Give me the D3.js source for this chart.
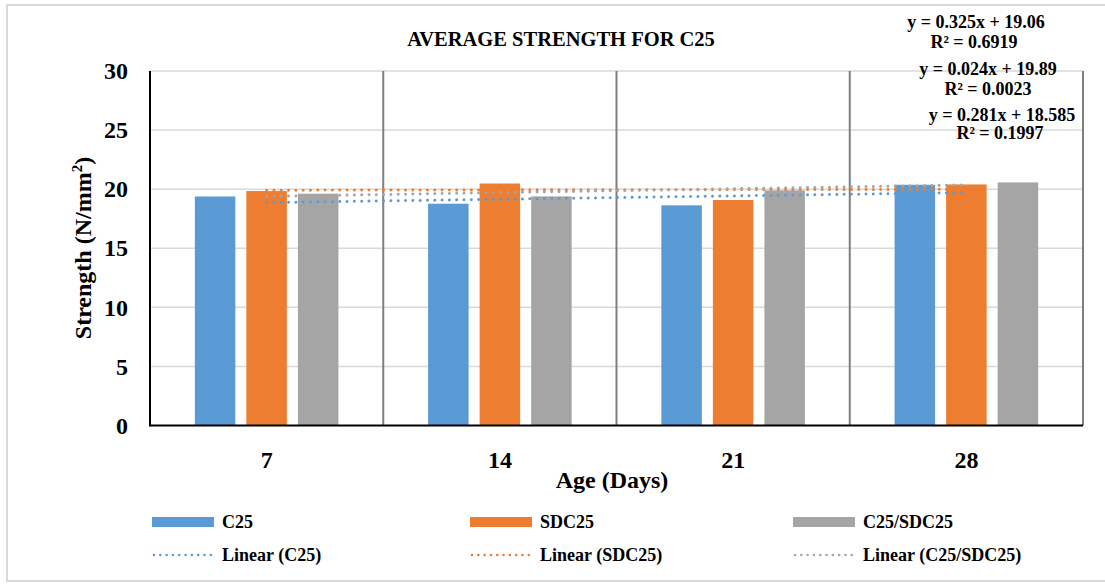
<!DOCTYPE html>
<html>
<head>
<meta charset="utf-8">
<script src="https://cdn.jsdelivr.net/npm/d3@7"></script>
<style>
  html, body { margin: 0; padding: 0; background: #fff; }
  text { font-family: "Liberation Serif", "Times New Roman", serif; font-weight: bold; fill: #000; }
</style>
</head>
<body>
<svg id="chart" width="1105" height="586"></svg>
<script>
// ---- data ----
const categories = ["7", "14", "21", "28"];
const seriesNames = ["C25", "SDC25", "C25/SDC25"];
const c25Values = [19.38, 18.77, 18.63, 20.37];
const sdc25Values = [19.84, 20.48, 19.08, 20.40];
const c25sdc25Values = [19.62, 19.39, 19.90, 20.57];
const trendNames = ["Linear (C25)", "Linear (SDC25)", "Linear (C25/SDC25)"];
const trendSlopes = [0.281, 0.024, 0.325];
const trendIntercepts = ["18.585", "19.89", "19.06"];
const trendR2 = ["0.1997", "0.0023", "0.6919"];
const yTicks = [0, 5, 10, 15, 20, 25, 30];
const seriesValues = [c25Values, sdc25Values, c25sdc25Values];
const colors = ["#5B9BD5", "#ED7D31", "#A5A5A5"];

(function () {
const svg = d3.select("#chart");

// outer border
svg.append("rect").attr("x", 7).attr("y", 5).attr("width", 1110).attr("height", 576)
  .attr("fill", "none").attr("stroke", "#d9d9d9").attr("stroke-width", 2);

const pL = 150, pR = 1083, pT = 71, pB = 425.5;
const x0 = d3.scaleBand().domain(categories).range([pL, pR]).padding(0);
const x1 = d3.scaleBand().domain(seriesNames).range([0, x0.bandwidth()])
  .paddingInner(0.214).paddingOuter(0.87);
const y = d3.scaleLinear().domain([0, 30]).range([pB, pT]);

// gridlines
svg.append("g").selectAll("line").data(yTicks.filter(d => d > 0)).join("line")
  .attr("x1", pL).attr("x2", pR)
  .attr("y1", d => y(d)).attr("y2", d => y(d))
  .attr("stroke", "#d9d9d9").attr("stroke-width", 1.5);

// category separators + right edge
svg.append("g").selectAll("line").data(categories.slice(1)).join("line")
  .attr("x1", d => x0(d)).attr("x2", d => x0(d))
  .attr("y1", pT).attr("y2", pB)
  .attr("stroke", "#7f7f7f").attr("stroke-width", 2);
svg.append("line").attr("x1", pR).attr("x2", pR).attr("y1", pT).attr("y2", pB)
  .attr("stroke", "#7f7f7f").attr("stroke-width", 2);

// bars
const barG = svg.append("g");
seriesNames.forEach((s, si) => {
  barG.append("g").selectAll("rect").data(categories).join("rect")
    .attr("x", (c) => x0(c) + x1(s))
    .attr("width", x1.bandwidth())
    .attr("y", (c, i) => y(seriesValues[si][i]))
    .attr("height", (c, i) => pB - y(seriesValues[si][i]))
    .attr("fill", colors[si]);
});

// trend lines
const line = d3.line().x(d => d[0]).y(d => d[1]);
trendSlopes.forEach((m, ti) => {
  const b = +trendIntercepts[ti];
  const pts = categories.map((c, i) => [x0(c) + x0.bandwidth() / 2, y(m * (i + 1) + b)]);
  svg.append("path").attr("d", line(pts)).attr("fill", "none")
    .attr("stroke", colors[ti]).attr("stroke-width", 3)
    .attr("stroke-linecap", "round").attr("stroke-dasharray", "0.01 7.3");
});

// axes
const yAxis = d3.axisLeft(y).tickValues(yTicks).tickSize(0).tickPadding(22);
const gy = svg.append("g").attr("transform", `translate(${pL},0)`).call(yAxis);
gy.select(".domain").remove();
gy.selectAll("text").style("font-size", "24px").attr("font-family", null);

const xAxis = d3.axisBottom(x0).tickSize(0).tickPadding(25);
const gx = svg.append("g").attr("transform", `translate(0,${pB})`).call(xAxis);
gx.select(".domain").remove();
gx.selectAll("text").style("font-size", "24px").attr("font-family", null);

// axis lines
svg.append("line").attr("x1", pL).attr("x2", pL).attr("y1", pT).attr("y2", pB + 1)
  .attr("stroke", "#000").attr("stroke-width", 2);
svg.append("line").attr("x1", pL).attr("x2", pR).attr("y1", pB).attr("y2", pB)
  .attr("stroke", "#000").attr("stroke-width", 2);

// title
svg.append("text").attr("x", 561).attr("y", 46).attr("text-anchor", "middle")
  .style("font-size", "20.5px").text("AVERAGE STRENGTH FOR C25");

// axis titles
svg.append("text").attr("x", 612).attr("y", 488).attr("text-anchor", "middle")
  .style("font-size", "24px").text("Age (Days)");
const yt = svg.append("text").attr("transform", "translate(91,248) rotate(-90)")
  .attr("text-anchor", "middle").style("font-size", "24px");
yt.append("tspan").text("Strength (N/mm");
yt.append("tspan").attr("dy", -9).style("font-size", "15px").text("2");
yt.append("tspan").attr("dy", 9).text(")");

// trendline equations
const eqPos = [
  { cx: 1002, y1: 121, cx2: 1000, y2: 139 },
  { cx: 988, y1: 75, cx2: 988, y2: 95 },
  { cx: 976, y1: 28, cx2: 974, y2: 48 }
];
trendSlopes.forEach((m, ti) => {
  const p = eqPos[ti];
  svg.append("text").attr("x", p.cx).attr("y", p.y1).attr("text-anchor", "middle")
    .style("font-size", "18px").text(`y = ${m.toFixed(3)}x + ${trendIntercepts[ti]}`);
  svg.append("text").attr("x", p.cx2).attr("y", p.y2).attr("text-anchor", "middle")
    .style("font-size", "18px").text(`R² = ${trendR2[ti]}`);
});

// legend
const legX = [152, 470, 793];
seriesNames.forEach((s, i) => {
  svg.append("rect").attr("x", legX[i]).attr("y", 517).attr("width", 62).attr("height", 10)
    .attr("fill", colors[i]);
  svg.append("text").attr("x", legX[i] + 70).attr("y", 528).style("font-size", "18px").text(s);
});
trendNames.forEach((s, i) => {
  svg.append("line").attr("x1", legX[i] + 2).attr("x2", legX[i] + 60)
    .attr("y1", 555).attr("y2", 555)
    .attr("stroke", colors[i]).attr("stroke-width", 2.6)
    .attr("stroke-linecap", "round").attr("stroke-dasharray", "0.01 6.3");
  svg.append("text").attr("x", legX[i] + 70).attr("y", 561).style("font-size", "18px").text(s);
});
})();
</script>
</body>
</html>
